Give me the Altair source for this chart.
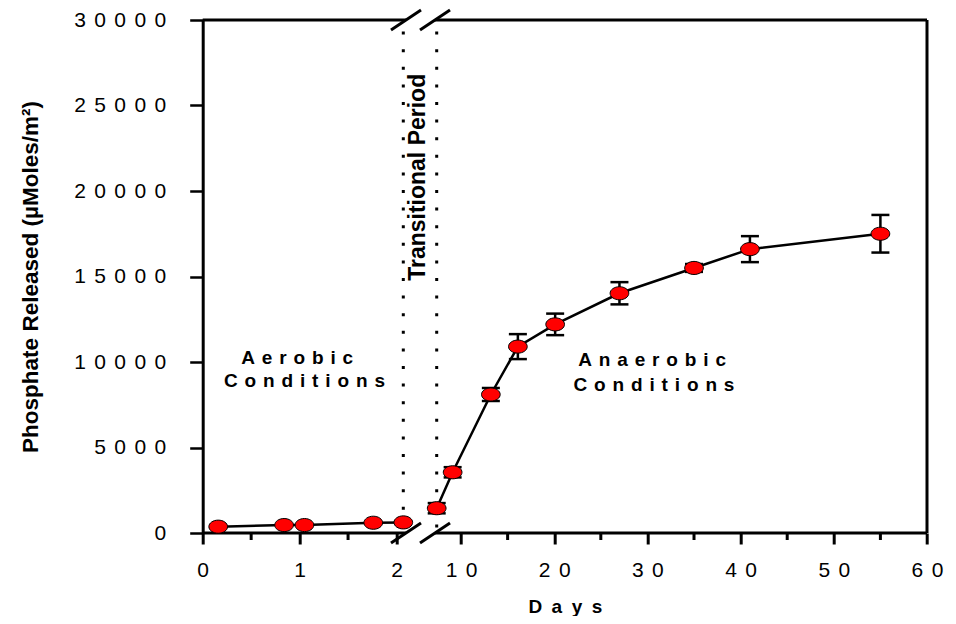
import altair as alt
import pandas as pd

# ---------------- data ----------------
aer_days = [0.16, 0.84, 1.05, 1.76, 2.07]
aer_phos = [370, 465, 465, 600, 620]

ana_days = [7.39, 9.1, 13.2, 16.1, 20.1, 27.0, 35.0, 41.0, 55.0]
ana_phos = [1450, 3550, 8100, 10900, 12200, 14020, 15500, 16600, 17500]
ana_err = [300, 300, 380, 730, 630, 650, 230, 760, 1100]

x_major = [0, 1, 2, 10, 20, 30, 40, 50, 60]
x_minor = [0.5, 1.5, 15, 25, 35, 45, 55]
y_ticks = [0, 5000, 10000, 15000, 20000, 25000, 30000]

transition_days = [2.07, 7.39]      # dotted lines bounding the transitional period
break_days = [2.5, 7.12]            # where the x axis is broken
x_max = 60
y_max = 30000

ann_text = ["Aerobic", "Conditions", "Anaerobic", "Conditions"]
ann_day = [0.975, 1.05, 30.5, 30.7]
ann_val = [9900, 8540, 9770, 8320]

trans_text = "Transitional Period"
trans_day = 5.53
trans_val = 20800

# ---------------- styling constants ----------------
FONT = "Liberation Sans"
LGAP = "\u2009\u2009"     # letter spacing for tick labels
GAP = "\u200a "           # letter spacing for annotations
W, H = 724.3, 513
X_DOMAIN = [0, transition_days[0], transition_days[1], x_max]
X_RANGE = [0, 200.6, 234.0, W]


def spaced(s, gap=GAP):
    return gap.join(list(s))


pts = pd.DataFrame({
    "day": aer_days + ana_days,
    "phos": aer_phos + ana_phos,
    "seg": ["aerobic"] * len(aer_days) + ["anaerobic"] * len(ana_days),
})
errs = pd.DataFrame({
    "day": ana_days,
    "lo": [v - e for v, e in zip(ana_phos, ana_err)],
    "hi": [v + e for v, e in zip(ana_phos, ana_err)],
})
frame_h = pd.DataFrame({
    "x1": [0, break_days[1], 0, break_days[1]],
    "x2": [break_days[0], x_max, break_days[0], x_max],
    "y": [0, 0, y_max, y_max],
})
frame_v = pd.DataFrame({"x": [x_max], "y1": [0], "y2": [y_max]})
slashes = pd.DataFrame({
    "x": [break_days[0], break_days[1], break_days[0], break_days[1]],
    "y": [0, 0, y_max, y_max],
})
dotted = pd.DataFrame({"x": transition_days})
minor = pd.DataFrame({"x": x_minor})
ann = pd.DataFrame({"text": [spaced(t) for t in ann_text], "day": ann_day, "val": ann_val})
trans = pd.DataFrame({"text": [trans_text], "day": [trans_day], "val": [trans_val]})

xscale = alt.Scale(domain=X_DOMAIN, range=X_RANGE, nice=False, zero=False)
yscale = alt.Scale(domain=[0, y_max], nice=False, zero=False)

label_expr = f"join(split(datum.label, ''), '{LGAP}') + '{LGAP}'"

x_axis = alt.Axis(
    values=x_major, format="d", labelExpr=label_expr,
    domain=False, grid=False,
    tickSize=11, tickWidth=3, tickColor="black",
    labelFont=FONT, labelFontSize=21, labelColor="black", labelPadding=15,
    labelFlush=False, labelOverlap=False,
    title=spaced("Days", "\u2002"), titleFont=FONT, titleFontSize=19, titleFontWeight="bold",
    titleColor="black", titleBaseline="alphabetic", titleY=79, titleX=W / 2,
    titleAlign="center",
)
y_axis = alt.Axis(
    values=y_ticks, format="d", labelExpr=label_expr,
    domain=True, domainColor="black", domainWidth=3, grid=False,
    tickSize=13, tickWidth=2.5, tickColor="black",
    labelFont=FONT, labelFontSize=21, labelColor="black", labelPadding=24,
    labelFlush=False, labelOverlap=False,
    title="Phosphate Released (µMoles/m²)", titleFont=FONT, titleFontSize=22.5,
    titleFontWeight="bold", titleColor="black", titleAngle=270,
    titleAlign="center", titleBaseline="alphabetic", titleX=-165, titleY=H / 2,
)

X = alt.X("day:Q", scale=xscale, axis=x_axis)
Y = alt.Y("phos:Q", scale=yscale, axis=y_axis)

ELLIPSE = "M -1 0 A 1 0.7 0 1 0 1 0 A 1 0.7 0 1 0 -1 0 Z"

line = alt.Chart(pts).mark_line(color="black", strokeWidth=2.5).encode(
    x=X, y=Y, detail="seg:N")

bars = alt.Chart(errs).mark_rule(color="black", strokeWidth=2.5).encode(
    x=alt.X("day:Q", scale=xscale), y=alt.Y("lo:Q", scale=yscale), y2="hi:Q")
cap_hi = alt.Chart(errs).mark_rule(color="black", strokeWidth=2.5, xOffset=-9, x2Offset=9).encode(
    x=alt.X("day:Q", scale=xscale), x2="day:Q", y=alt.Y("hi:Q", scale=yscale))
cap_lo = alt.Chart(errs).mark_rule(color="black", strokeWidth=2.5, xOffset=-9, x2Offset=9).encode(
    x=alt.X("day:Q", scale=xscale), x2="day:Q", y=alt.Y("lo:Q", scale=yscale))

points = alt.Chart(pts).mark_point(
    shape=ELLIPSE, size=350, filled=True, color="#ff0000", fill="#ff0000",
    stroke="black", strokeWidth=1, opacity=1, fillOpacity=1, strokeOpacity=1,
).encode(x=alt.X("day:Q", scale=xscale), y=alt.Y("phos:Q", scale=yscale))

frame1 = alt.Chart(frame_h).mark_rule(color="black", strokeWidth=3).encode(
    x=alt.X("x1:Q", scale=xscale), x2="x2:Q", y=alt.Y("y:Q", scale=yscale))
frame2 = alt.Chart(frame_v).mark_rule(color="black", strokeWidth=3).encode(
    x=alt.X("x:Q", scale=xscale), y=alt.Y("y1:Q", scale=yscale), y2="y2:Q")
brk = alt.Chart(slashes).mark_rule(
    color="black", strokeWidth=3, xOffset=-15, x2Offset=15, yOffset=10, y2Offset=-10
).encode(x=alt.X("x:Q", scale=xscale), x2="x:Q", y=alt.Y("y:Q", scale=yscale), y2="y:Q")
dots = alt.Chart(dotted).mark_rule(
    color="black", strokeWidth=3, strokeDash=[3, 14.6], strokeDashOffset=6
).encode(x=alt.X("x:Q", scale=xscale), y=alt.datum(y_max), y2=alt.datum(0))
minor_ticks = alt.Chart(minor).mark_rule(color="black", strokeWidth=3, y2Offset=7).encode(
    x=alt.X("x:Q", scale=xscale), y=alt.datum(0), y2=alt.datum(0))

annotations = alt.Chart(ann).mark_text(
    font=FONT, fontSize=19, fontWeight="bold", color="black",
    align="center", baseline="alphabetic",
).encode(x=alt.X("day:Q", scale=xscale), y=alt.Y("val:Q", scale=yscale), text="text:N")
trans_label = alt.Chart(trans).mark_text(
    font=FONT, fontSize=23, fontWeight="bold", color="black",
    align="center", baseline="alphabetic", angle=270,
).encode(x=alt.X("day:Q", scale=xscale), y=alt.Y("val:Q", scale=yscale), text="text:N")

chart = alt.layer(
    frame1, frame2, brk, dots, minor_ticks, line, bars, cap_hi, cap_lo, points,
    annotations, trans_label,
).properties(
    width=W, height=H,
    autosize=alt.AutoSizeParams(type="none"),
    padding={"left": 194.7, "top": 12, "right": 20, "bottom": 83},
    background="white",
).configure_view(stroke=None)

chart.save("out.html", embed_options={"renderer": "svg", "actions": False})
